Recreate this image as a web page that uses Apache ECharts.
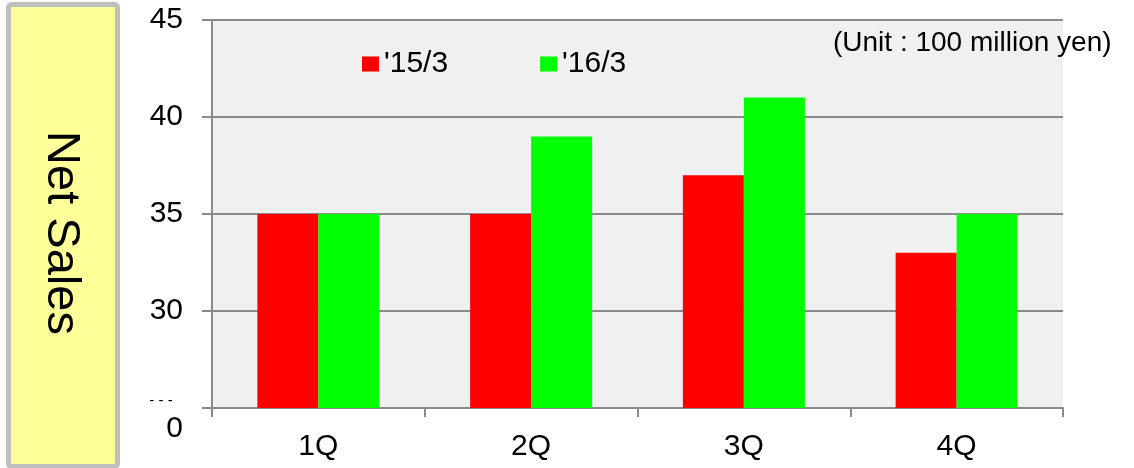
<!DOCTYPE html>
<html>
<head>
<meta charset="utf-8">
<script src="https://cdn.jsdelivr.net/npm/echarts@6/dist/echarts.min.js"></script>
<style>
html,body{margin:0;padding:0;background:#fff;}
#c{width:1134px;height:468px;}
</style>
</head>
<body>
<div id="c"></div>
<script>
const categories = ['1Q', '2Q', '3Q', '4Q'];
const seriesNames = ["'15/3", "'16/3"];
const sales15 = [35, 35, 37, 33];
const sales16 = [35, 39, 41, 35];
const yMin = 25, yMax = 45, yStep = 5;
const brokenAxisLabel = '0';

const FONT = "'Liberation Sans', Arial, sans-serif";
const chart = echarts.init(document.getElementById('c'), null, {renderer: 'canvas'});

const option = {
  animation: false,
  backgroundColor: '#ffffff',
  textStyle: {fontFamily: FONT},
  grid: {
    left: 212, right: 71, top: 20, bottom: 60,
    show: true, backgroundColor: '#f0f0f0', borderWidth: 0
  },
  legend: {
    data: seriesNames,
    left: 357, top: 44,
    icon: 'rect', itemWidth: 17, itemHeight: 15, itemGap: 92,
    textStyle: {fontSize: 30, color: '#000', fontFamily: FONT}
  },
  xAxis: {
    type: 'category',
    data: categories,
    axisLine: {show: true, lineStyle: {color: '#8a8a8a', width: 2}},
    axisTick: {show: true, length: 9, lineStyle: {color: '#8a8a8a', width: 2}},
    axisLabel: {fontSize: 30, color: '#000', margin: 24, fontFamily: FONT},
    splitLine: {show: false}
  },
  yAxis: {
    type: 'value',
    min: yMin, max: yMax, interval: yStep,
    axisLine: {show: true, lineStyle: {color: '#8a8a8a', width: 2}},
    axisTick: {show: true, length: 10, lineStyle: {color: '#8a8a8a', width: 2}},
    axisLabel: {
      fontSize: 30, color: '#000', margin: 29, fontFamily: FONT,
      formatter: v => (v === yMin ? '' : String(v))
    },
    splitLine: {show: true, lineStyle: {color: '#8a8a8a', width: 2}}
  },
  series: [
    {name: seriesNames[0], type: 'bar', data: sales15, barWidth: 61, barGap: '0%',
     itemStyle: {color: '#ff0000'}},
    {name: seriesNames[1], type: 'bar', data: sales16, barWidth: 61, barGap: '0%',
     itemStyle: {color: '#00ff00'}}
  ]
};
chart.setOption(option);

const yBase = chart.convertToPixel({yAxisIndex: 0}, yMin);

chart.setOption({
  graphic: [
    {type: 'rect', left: 6, top: 2, silent: true,
     shape: {x: 0, y: 0, width: 109, height: 462, r: 3},
     style: {fill: '#ffff99', stroke: '#bfbfbf', lineWidth: 5}},
    {type: 'text', x: 61, y: 233, rotation: -Math.PI / 2, silent: true,
     style: {text: 'Net Sales', fontSize: 47, fontFamily: FONT, fill: '#000',
             align: 'center', verticalAlign: 'middle', textAlign: 'center', textVerticalAlign: 'middle'}},
    {type: 'text', x: 833, y: 43, silent: true,
     style: {text: '(Unit : 100 million yen)', fontSize: 28, fontFamily: FONT, fill: '#000',
             align: 'left', verticalAlign: 'middle', textAlign: 'left', textVerticalAlign: 'middle'}},
    {type: 'text', x: 183, y: yBase + 21, silent: true,
     style: {text: brokenAxisLabel, fontSize: 30, fontFamily: FONT, fill: '#000',
             align: 'right', verticalAlign: 'middle', textAlign: 'right', textVerticalAlign: 'middle'}},
    {type: 'text', x: 161, y: yBase - 7, silent: true,
     style: {text: '- - -', fontSize: 15, fontFamily: FONT, fill: '#000',
             align: 'center', verticalAlign: 'middle', textAlign: 'center', textVerticalAlign: 'middle'}}
  ]
});
</script>
</body>
</html>
